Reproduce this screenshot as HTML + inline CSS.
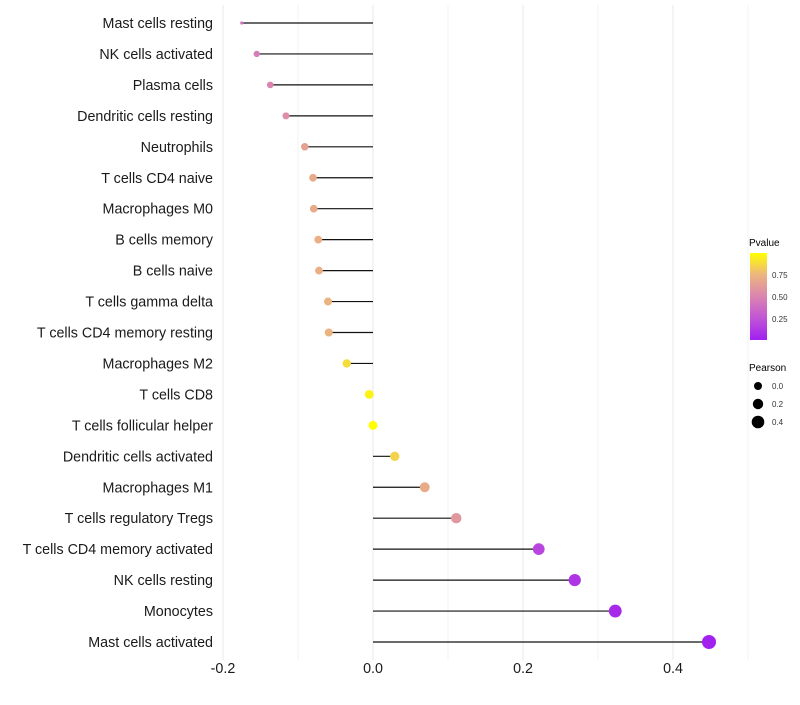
<!DOCTYPE html>
<html><head><meta charset="utf-8"><style>
body{margin:0;background:#fff;font-family:"Liberation Sans",sans-serif;}
</style></head><body>
<svg id="chart" width="800" height="700" xmlns="http://www.w3.org/2000/svg" font-family="Liberation Sans, sans-serif">
<defs>
<linearGradient id="pgrad" x1="0" y1="1" x2="0" y2="0">
<stop offset="0" stop-color="#a020f0"/>
<stop offset="0.25" stop-color="#c154d6"/>
<stop offset="0.5" stop-color="#da84b0"/>
<stop offset="0.75" stop-color="#ecb57e"/>
<stop offset="1" stop-color="#ffff00"/>
</linearGradient>
</defs>
<g id="grid"></g>
<g id="marks"></g>
<g id="labels"></g>
<g id="legend">
<text x="749" y="246" font-size="10" fill="#000">Pvalue</text>
<rect x="750" y="253" width="17" height="87" fill="url(#pgrad)"/>
<text x="772" y="278" font-size="8" fill="#333">0.75</text>
<text x="772" y="300" font-size="8" fill="#333">0.50</text>
<text x="772" y="322" font-size="8" fill="#333">0.25</text>
<text x="749" y="371" font-size="10" fill="#000">Pearson</text>
<circle cx="758" cy="386" r="4" fill="#000"/><text x="772" y="389" font-size="8" fill="#333">0.0</text>
<circle cx="758" cy="404" r="5.2" fill="#000"/><text x="772" y="407" font-size="8" fill="#333">0.2</text>
<circle cx="758" cy="422" r="6.3" fill="#000"/><text x="772" y="425" font-size="8" fill="#333">0.4</text>
</g>
</svg>
<script>
const categories=["Mast cells resting","NK cells activated","Plasma cells","Dendritic cells resting","Neutrophils","T cells CD4 naive","Macrophages M0","B cells memory","B cells naive","T cells gamma delta","T cells CD4 memory resting","Macrophages M2","T cells CD8","T cells follicular helper","Dendritic cells activated","Macrophages M1","T cells regulatory  Tregs ","T cells CD4 memory activated","NK cells resting","Monocytes","Mast cells activated"];
const pearson=[-0.175,-0.155,-0.137,-0.116,-0.091,-0.08,-0.079,-0.073,-0.072,-0.06,-0.059,-0.035,-0.005,0.0,0.029,0.069,0.111,0.221,0.269,0.323,0.448];
const pvalue=[0.42,0.46,0.5,0.55,0.65,0.7,0.7,0.72,0.72,0.74,0.74,0.88,0.96,1.0,0.85,0.7,0.6,0.18,0.1,0.05,0.01];
const xTicks=[-0.2,0.0,0.2,0.4];
const xTickLabels=["-0.2","0.0","0.2","0.4"];
const NS="http://www.w3.org/2000/svg";
function xs(v){return 373+v*750;}
function ys(i){return 23+i*(619/(categories.length-1));}
const pmin=Math.min(...pearson);
function rs(v){return v===pmin?1.6:Math.sqrt(Math.max(2.5,20+65*v));}
const stops=[[0,[160,32,240]],[0.25,[193,84,214]],[0.5,[218,132,176]],[0.75,[236,181,126]],[1,[255,255,0]]];
function col(p){for(let k=1;k<stops.length;k++){if(p<=stops[k][0]){const a=stops[k-1],b=stops[k];const t=(p-a[0])/(b[0]-a[0]);const c=a[1].map((x,j)=>Math.round(x+(b[1][j]-x)*t));return `rgb(${c})`;}}return "rgb(255,255,0)";}
function mk(t,at,parent){const e=document.createElementNS(NS,t);for(const k in at)e.setAttribute(k,at[k]);parent.appendChild(e);return e;}
const grid=document.getElementById('grid'),marks=document.getElementById('marks'),labels=document.getElementById('labels');
for(let v=-0.2;v<=0.51;v+=0.1){const g=mk('line',{x1:xs(v),x2:xs(v),y1:5,y2:660,stroke:'#ebebeb','stroke-width':Math.abs(Math.round(v*10))%2===0?1.1:0.6},grid);

}
categories.forEach((c,i)=>{const y=ys(i);
const l=mk('line',{x1:xs(0),x2:xs(pearson[i]),y1:y,y2:y,stroke:'#111','stroke-width':1.2},marks);


const p=mk('circle',{cx:xs(pearson[i]),cy:y,r:rs(pearson[i]),fill:col(pvalue[i])},marks);


const t=mk('text',{x:213,y:y+5,'text-anchor':'end','font-size':14.3,fill:'#1a1a1a'},labels);t.textContent=c;

});
xTicks.forEach((v,i)=>{const t=mk('text',{x:xs(v),y:673,'text-anchor':'middle','font-size':14.3,fill:'#1a1a1a'},labels);t.textContent=xTickLabels[i];

});
</script>
</body></html>
